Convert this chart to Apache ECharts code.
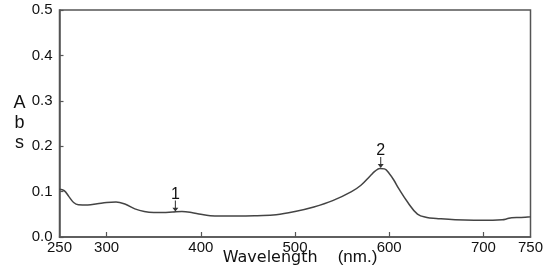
<!DOCTYPE html>
<html>
<head>
<meta charset="utf-8">
<script src="https://cdn.jsdelivr.net/npm/echarts@6/dist/echarts.min.js"></script>
<style>html,body{margin:0;padding:0;background:#fff;}#c{width:548px;height:268px;}</style>
</head>
<body>
<div id="c"></div>
<script>
const wavelength = [250,255,260,265,270,280,290,300,310,320,330,340,350,360,370,380,390,400,410,420,440,460,480,500,520,540,560,570,580,585,590,595,600,605,610,620,630,640,650,670,690,710,720,725,730,740,750];
const absorbance = [0.105,0.102,0.089,0.076,0.071,0.0705,0.073,0.076,0.077,0.072,0.062,0.056,0.054,0.054,0.055,0.056,0.054,0.050,0.047,0.046,0.046,0.047,0.049,0.056,0.066,0.080,0.100,0.114,0.135,0.145,0.151,0.150,0.140,0.125,0.107,0.0755,0.0505,0.043,0.041,0.038,0.037,0.037,0.038,0.040,0.0425,0.043,0.0447];
const xTickValues = [300,400,500,600,700];
const xLabelValues = [250,300,400,500,600,700,750];
const peakLabels = ['1','2'];
const peakPositions = [[373,0.056],[591,0.152]];

const lineColor = '#555';
const textColor = '#111';
const font = 'Liberation Sans, Arial, sans-serif';

const arrowPath = 'path://M4.4,0 L5.6,0 L5.6,9 L8.5,9 L5,14 L1.5,9 L4.4,9 Z';

const chart = echarts.init(document.getElementById('c'), null, {renderer:'canvas'});
chart.setOption({
  animation:false,
  backgroundColor:'#fff',
  grid:{left:59.5,right:17.5,top:10,bottom:31,show:true,borderColor:lineColor,borderWidth:1.5,backgroundColor:'transparent',containLabel:false,outerBoundsMode:'none'},
  xAxis:{
    type:'value',min:250,max:750,interval:50,
    axisLine:{show:true,lineStyle:{color:lineColor,width:1.5}},
    axisTick:{show:true,inside:true,length:5,lineStyle:{color:lineColor,width:1.2},customValues:xTickValues},
    axisLabel:{color:textColor,fontSize:15,fontFamily:font,margin:3,customValues:xLabelValues},
    splitLine:{show:false},
    name:'{a|Wavelength}{b|(nm.)}',
    nameLocation:'middle',nameGap:12,nameMoveOverlap:false,
    nameTextStyle:{padding:[0,0,0,10],rich:{
      a:{fontFamily:'DejaVu Sans',fontSize:16,color:textColor,padding:[0,20,0,0]},
      b:{fontFamily:font,fontSize:17,color:textColor}
    }}
  },
  yAxis:{
    type:'value',min:0,max:0.5,interval:0.1,
    axisLine:{show:true,lineStyle:{color:lineColor,width:1.5}},
    axisTick:{show:true,inside:true,length:4,lineStyle:{color:lineColor,width:1.2}},
    axisLabel:{color:textColor,fontSize:15,fontFamily:font,margin:7,formatter:v=>v.toFixed(1)},
    splitLine:{show:false},
    name:'A\nb\ns',nameLocation:'middle',nameRotate:0,nameGap:40,nameMoveOverlap:false,
    nameTextStyle:{color:textColor,fontSize:18,fontFamily:font,lineHeight:20,align:'center'}
  },
  series:[{
    type:'line',smooth:0.4,showSymbol:false,
    data:wavelength.map((w,i)=>[w,absorbance[i]]),
    lineStyle:{color:'#444',width:1.5},
    markPoint:{
      symbol:arrowPath,symbolSize:[6,11],symbolOffset:[0,'-50%'],
      itemStyle:{color:'#333'},
      label:{show:true,position:'top',distance:-2,color:textColor,fontSize:16,fontFamily:font,formatter:p=>p.name},
      data:peakPositions.map((c,i)=>({name:peakLabels[i],coord:c}))
    }
  }]
});
</script>
</body>
</html>
